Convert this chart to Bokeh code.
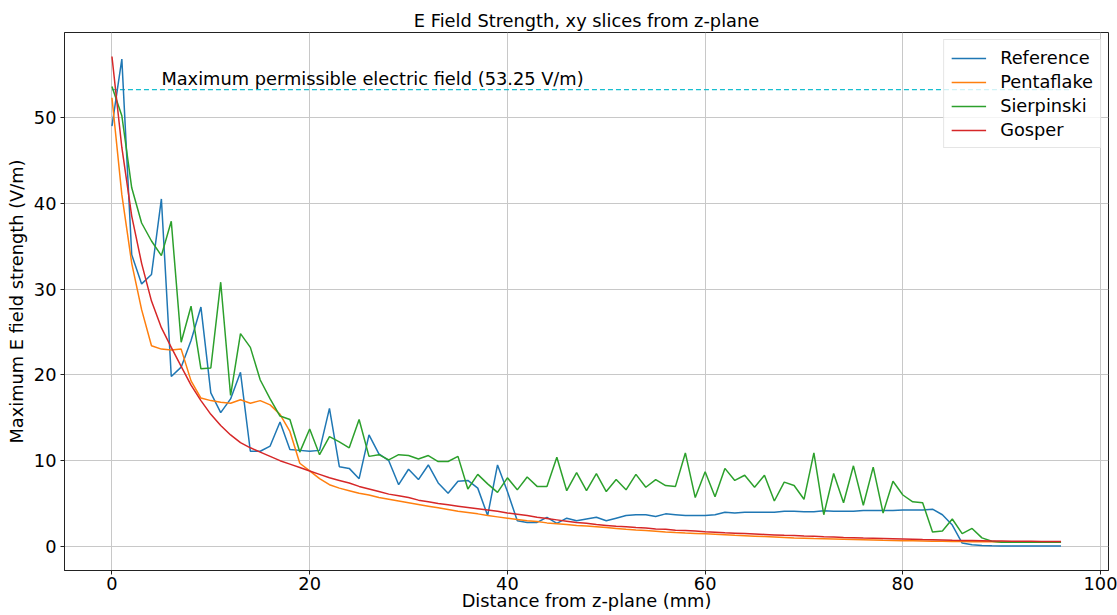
from bokeh.plotting import figure
from bokeh.models import Range1d, Legend, LegendItem, Label, FixedTicker
from bokeh.embed import file_html
from bokeh.resources import INLINE

# Distance from the z-plane (mm)
distance_mm = list(range(0, 97))

reference = [
    49.0, 56.8, 34.0, 30.6, 31.7, 40.5, 19.8, 20.9, 24.0, 27.9,
    17.9, 15.6, 17.2, 20.3, 11.1, 11.1, 11.7, 14.5, 11.3, 11.2,
    11.1, 11.2, 16.1, 9.3, 9.1, 7.9, 13.0, 10.8, 10.0, 7.2,
    9.0, 7.8, 9.5, 7.4, 6.2, 7.6, 7.7, 6.8, 3.6, 9.5,
    6.4, 3.0, 2.8, 2.8, 3.4, 2.7, 3.3, 3.0, 3.2, 3.4,
    3.0, 3.3, 3.6, 3.7, 3.7, 3.5, 3.8, 3.7, 3.6, 3.6,
    3.6, 3.7, 4.0, 3.9, 4.0, 4.0, 4.0, 4.0, 4.1, 4.1,
    4.05, 4.05, 4.15, 4.1, 4.1, 4.1, 4.2, 4.2, 4.2, 4.2,
    4.25, 4.25, 4.25, 4.35, 3.7, 2.5, 0.4, 0.2, 0.12, 0.08,
    0.06, 0.05, 0.05, 0.05, 0.05, 0.05, 0.05,
]

pentaflake = [
    52.3, 41.0, 33.0, 27.6, 23.4, 23.0, 22.9, 23.0, 19.3, 17.3,
    17.0, 16.8, 16.7, 17.1, 16.7, 17.0, 16.5, 15.4, 13.4, 9.7,
    8.8, 7.9, 7.2, 6.8, 6.5, 6.2, 6.0, 5.7, 5.5, 5.3,
    5.1, 4.9, 4.7, 4.5, 4.3, 4.1, 3.95, 3.8, 3.6, 3.45,
    3.3, 3.15, 3.0, 2.9, 2.75, 2.65, 2.55, 2.45, 2.4, 2.3,
    2.2, 2.1, 2.0, 1.92, 1.85, 1.78, 1.7, 1.63, 1.57, 1.52,
    1.47, 1.42, 1.37, 1.3, 1.25, 1.2, 1.15, 1.1, 1.05, 1.0,
    0.97, 0.93, 0.9, 0.87, 0.84, 0.81, 0.78, 0.75, 0.72, 0.7,
    0.68, 0.66, 0.64, 0.62, 0.6, 0.58, 0.57, 0.56, 0.55, 0.54,
    0.53, 0.52, 0.51, 0.5, 0.5, 0.5, 0.5,
]

sierpinski = [
    53.6, 50.2, 41.8, 37.7, 35.6, 33.9, 37.9, 23.8, 28.0, 20.7,
    20.8, 30.8, 17.6, 24.8, 23.2, 19.4, 17.2, 15.2, 14.8, 11.0,
    13.7, 10.7, 12.8, 12.2, 11.5, 14.8, 10.5, 10.7, 10.1, 10.7,
    10.6, 10.2, 10.6, 9.9, 9.9, 10.5, 6.7, 8.4, 7.3, 6.3,
    8.0, 6.6, 8.1, 7.0, 7.0, 10.4, 6.5, 8.6, 6.5, 8.5,
    6.4, 7.8, 6.6, 8.4, 6.9, 7.8, 7.1, 7.0, 10.9, 5.7,
    8.7, 5.8, 9.1, 7.7, 8.3, 6.9, 8.3, 5.3, 7.5, 7.1,
    5.5, 10.9, 3.7, 8.5, 5.1, 9.4, 4.8, 9.25, 3.9, 7.6,
    6.0, 5.2, 5.1, 1.7, 1.8, 3.2, 1.5, 2.1, 1.0, 0.6,
    0.5, 0.5, 0.5, 0.5, 0.5, 0.5, 0.5,
]

gosper = [
    57.1, 46.5, 38.5, 33.0, 28.6, 25.5, 23.2, 21.0, 18.8, 17.0,
    15.4, 14.1, 13.0, 12.1, 11.5, 11.0, 10.5, 10.0, 9.6, 9.2,
    8.8, 8.4, 8.0, 7.7, 7.4, 7.0, 6.7, 6.4, 6.1, 5.9,
    5.7, 5.4, 5.2, 5.0, 4.85, 4.7, 4.55, 4.4, 4.25, 4.1,
    3.9, 3.75, 3.6, 3.4, 3.25, 3.1, 2.95, 2.8, 2.7, 2.55,
    2.45, 2.35, 2.3, 2.2, 2.15, 2.05, 2.0, 1.9, 1.85, 1.8,
    1.72, 1.67, 1.6, 1.55, 1.5, 1.45, 1.4, 1.35, 1.3, 1.27,
    1.22, 1.18, 1.13, 1.1, 1.05, 1.02, 0.98, 0.95, 0.92, 0.89,
    0.86, 0.83, 0.8, 0.78, 0.76, 0.73, 0.71, 0.69, 0.67, 0.65,
    0.64, 0.62, 0.61, 0.6, 0.59, 0.58, 0.57,
]

series_names = ["Reference", "Pentaflake", "Sierpinski", "Gosper"]
series_colors = ["#1f77b4", "#ff7f0e", "#2ca02c", "#d62728"]

limit_value = 53.25
limit_span = [0, 97]
limit_text = "Maximum permissible electric field (53.25 V/m)"

FONT = "DejaVu Sans"
FS = "17.8px"

p = figure(
    width=1117, height=615,
    x_range=Range1d(-4.8, 100.8), y_range=Range1d(-2.8, 59.9),
    output_backend="svg", toolbar_location=None,
    min_border_left=64, min_border_right=9, min_border_top=32, min_border_bottom=45,
    title="E Field Strength, xy slices from z-plane",
)
p.background_fill_color = "white"
p.border_fill_color = "white"
p.outline_line_color = "#222222"
p.outline_line_width = 1

p.title.align = "center"
p.title.text_font = FONT
p.title.text_font_size = FS
p.title.text_font_style = "normal"
p.title.text_color = "black"
p.title.standoff = 3

for ax in (p.xaxis[0], p.yaxis[0]):
    ax.axis_label_text_font = FONT
    ax.axis_label_text_font_size = FS
    ax.axis_label_text_font_style = "normal"
    ax.axis_label_text_color = "black"
    ax.major_label_text_font = FONT
    ax.major_label_text_font_size = FS
    ax.major_label_text_color = "black"
    ax.major_tick_out = 4
    ax.major_tick_in = 0
    ax.minor_tick_out = 0
    ax.minor_tick_in = 0
    ax.major_tick_line_color = "#222222"
    ax.axis_line_color = "#222222"

p.xaxis.major_label_standoff = 2
p.xaxis.axis_label_standoff = -3
p.yaxis.major_label_standoff = 4
p.yaxis.axis_label_standoff = 4

p.xaxis.axis_label = "Distance from z-plane (mm)"
p.yaxis.axis_label = "Maximum E field strength (V/m)"
p.xaxis.ticker = FixedTicker(ticks=[0, 20, 40, 60, 80, 100])
p.yaxis.ticker = FixedTicker(ticks=[0, 10, 20, 30, 40, 50])

p.grid.grid_line_color = "#c8c8c8"
p.grid.grid_line_width = 1

# Permissible limit
p.line(limit_span, [limit_value, limit_value], line_color="#17becf",
       line_width=1.3, line_dash="5 3")
p.add_layout(Label(x=5, y=limit_value + 1.3, text=limit_text,
                   text_font=FONT, text_font_size=FS, text_color="black",
                   text_baseline="alphabetic"))

items = []
for name, color, values in zip(series_names, series_colors,
                               [reference, pentaflake, sierpinski, gosper]):
    r = p.line(distance_mm, values, line_color=color, line_width=1.5)
    items.append(LegendItem(label=name, renderers=[r]))

legend = Legend(items=items, location="top_right")
legend.label_text_font = FONT
legend.label_text_font_size = FS
legend.label_text_color = "black"
legend.border_line_color = "#cccccc"
legend.background_fill_alpha = 0.8
legend.glyph_width = 35
legend.label_standoff = 14
legend.spacing = 3
legend.padding = 7
legend.margin = 7
p.add_layout(legend)

open("out.html", "w").write(file_html(p, INLINE))
